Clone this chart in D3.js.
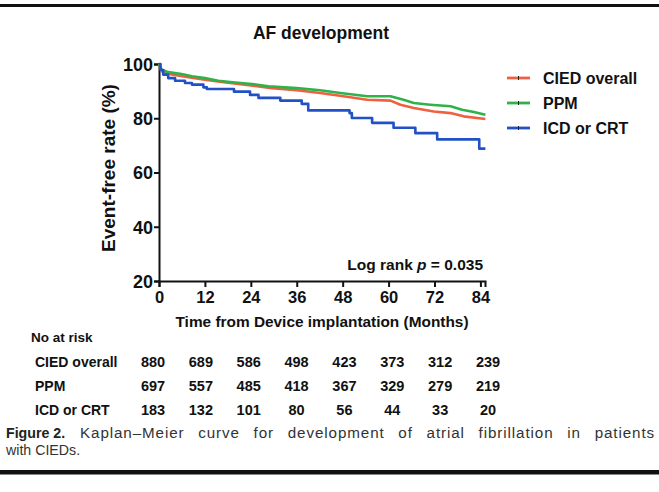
<!DOCTYPE html>
<html lang="en">
<head>
    <meta charset="UTF-8">
    <title>AF development</title>
    <script src="https://d3js.org/d3.v7.min.js"></script>
    <style>
        body {
            margin: 0;
            padding: 0;
            background: #fff;
        }
        svg {
            display: block;
            font-family: "Liberation Sans", Arial, sans-serif;
        }
        .bold {
            font-weight: bold;
            fill: #111;
        }
    </style>
</head>
<body>
    <svg width="659" height="492"></svg>

    <script>
        // Kaplan-Meier estimates (month, event-free %)
        const overallMonths = [0, 0.7, 3.3, 7.7, 12.0, 16.4, 20.8, 25.1, 29.5, 36.0, 42.1, 48.2, 54.4, 60.5, 63.1, 66.6, 71.8, 76.2, 79.6, 85.3];
        const overallRate   = [100, 97.3, 96.1, 95.1, 94.2, 93.4, 92.6, 91.9, 91.1, 90.3, 89.3, 88.1, 86.8, 86.5, 85.0, 83.8, 82.5, 81.9, 80.7, 79.7];

        const ppmMonths = [0, 0.7, 2.4, 5.9, 8.6, 12.0, 15.5, 19.9, 24.3, 28.6, 36.0, 42.1, 47.4, 54.4, 60.5, 63.9, 66.6, 70.9, 76.2, 79.2, 82.3, 85.3];
        const ppmRate   = [100, 97.9, 97.0, 96.3, 95.5, 94.8, 93.8, 93.2, 92.6, 91.8, 91.1, 90.3, 89.3, 88.1, 88.1, 86.8, 85.6, 85.0, 84.4, 83.1, 82.3, 81.3];

        const icdMonths = [0, 0.4, 1.1, 2.4, 4.2, 6.8, 8.6, 11.6, 12.5, 19.6, 23.8, 26.0, 31.7, 37.3, 39.0, 49.8, 50.4, 55.7, 61.3, 67.0, 72.7, 83.7, 85.3];
        const icdRate   = [100, 97.8, 96.1, 94.8, 93.8, 93.0, 92.4, 91.4, 90.8, 89.8, 88.6, 87.5, 86.5, 85.3, 82.9, 81.9, 80.1, 78.3, 76.5, 74.5, 72.2, 68.8, 68.8];

        const seriesNames  = ["CIED overall", "PPM", "ICD or CRT"];
        const seriesColors = ["#f0603f", "#2fb24a", "#2250c6"];

        const xTicks = [0, 12, 24, 36, 48, 60, 72, 84];
        const yTicks = [20, 40, 60, 80, 100];

        // numbers at risk, per column of xTicks
        const riskOverall = [880, 689, 586, 498, 423, 373, 312, 239];
        const riskPPM     = [697, 557, 485, 418, 367, 329, 279, 219];
        const riskICD     = [183, 132, 101, 80, 56, 44, 33, 20];

        const svg = d3.select("svg");

        const x = d3.scaleLinear().domain([0, 85.2]).range([159, 485]);
        const y = d3.scaleLinear().domain([20, 100]).range([281, 64]);

        // top rule
        svg.append("rect").attr("x", 0).attr("y", 4).attr("width", 659).attr("height", 3).attr("fill", "#111");

        // title
        svg.append("text").attr("class", "bold")
            .attr("x", 321).attr("y", 39)
            .attr("text-anchor", "middle")
            .style("font-size", "17.5px")
            .text("AF development");

        // axes
        const xAxis = svg.append("g")
            .attr("transform", "translate(0,281)")
            .call(d3.axisBottom(x).tickValues(xTicks).tickSize(6).tickPadding(4));
        const yAxis = svg.append("g")
            .attr("transform", "translate(159,0)")
            .call(d3.axisLeft(y).tickValues(yTicks).tickSize(5).tickPadding(1));

        [xAxis, yAxis].forEach(g => {
            g.select(".domain").attr("stroke", "#111").attr("stroke-width", 2);
            g.selectAll(".tick line").attr("stroke", "#111").attr("stroke-width", 2);
            g.selectAll(".tick text")
                .attr("fill", "#111")
                .style("font-family", "'Liberation Sans', Arial, sans-serif")
                .style("font-weight", "bold");
        });
        xAxis.selectAll(".tick text").style("font-size", "16.5px");
        yAxis.selectAll(".tick text").style("font-size", "18px").attr("dy", "0.36em");

        // axis titles
        svg.append("text").attr("class", "bold")
            .attr("x", 322).attr("y", 327)
            .attr("text-anchor", "middle")
            .style("font-size", "15.4px")
            .text("Time from Device implantation (Months)");

        svg.append("text").attr("class", "bold")
            .attr("transform", "translate(115,168) rotate(-90)")
            .attr("text-anchor", "middle")
            .style("font-size", "19px")
            .text("Event-free rate (%)");

        // survival curves
        const series = [
            { months: overallMonths, rate: overallRate, curve: d3.curveLinear },
            { months: ppmMonths, rate: ppmRate, curve: d3.curveLinear },
            { months: icdMonths, rate: icdRate, curve: d3.curveStepAfter }
        ];

        series.forEach((s, i) => {
            const pts = s.months.map((m, j) => [m, s.rate[j]]);
            const line = d3.line()
                .x(d => x(d[0]))
                .y(d => y(d[1]))
                .curve(s.curve);
            svg.append("path")
                .datum(pts)
                .attr("fill", "none")
                .attr("stroke", seriesColors[i])
                .attr("stroke-width", 2.6)
                .attr("stroke-linejoin", "round")
                .attr("d", line);
        });

        // legend
        const legend = svg.append("g").attr("transform", "translate(507,78)");
        seriesNames.forEach((name, i) => {
            const row = legend.append("g").attr("transform", `translate(0,${i * 25})`);
            row.append("line")
                .attr("x1", 0).attr("x2", 23)
                .attr("stroke", seriesColors[i]).attr("stroke-width", 2.8);
            row.append("line")
                .attr("x1", 11.5).attr("x2", 11.5).attr("y1", -2).attr("y2", 2)
                .attr("stroke", "#222").attr("stroke-width", 1);
            row.append("text").attr("class", "bold")
                .attr("x", 36).attr("dy", "0.36em")
                .style("font-size", "16px")
                .text(name);
        });

        // log rank annotation
        const lr = svg.append("text").attr("class", "bold")
            .attr("x", 483).attr("y", 270)
            .attr("text-anchor", "end")
            .style("font-size", "15.5px");
        lr.append("tspan").text("Log rank ");
        lr.append("tspan").style("font-style", "italic").text("p");
        lr.append("tspan").text(" = 0.035");

        // numbers at risk table
        const col = d3.scaleLinear().domain([0, 84]).range([153, 488]);

        svg.append("text").attr("class", "bold")
            .attr("x", 31).attr("y", 341.5)
            .style("font-size", "13.5px")
            .text("No at risk");

        const riskRows = [riskOverall, riskPPM, riskICD];
        riskRows.forEach((vals, i) => {
            const yy = 366.5 + i * 24.3;
            svg.append("text").attr("class", "bold")
                .attr("x", 35).attr("y", yy)
                .style("font-size", "14px")
                .text(seriesNames[i]);
            svg.selectAll(null)
                .data(vals)
                .enter().append("text")
                .attr("class", "bold")
                .attr("x", (d, j) => col(xTicks[j]))
                .attr("y", yy)
                .attr("text-anchor", "middle")
                .style("font-size", "14.5px")
                .text(d => d);
        });

        // caption; the first line is justified in the journal layout
        svg.append("text")
            .attr("x", 6).attr("y", 438)
            .attr("fill", "#222")
            .style("font-size", "14.2px")
            .style("font-weight", "bold")
            .text("Figure 2.");

        const capText = "Kaplan\u2013Meier curve for development of atrial fibrillation in patients";
        const cap1 = svg.append("text")
            .attr("x", 80).attr("y", 438)
            .attr("fill", "#333")
            .style("font-size", "15.2px")
            .style("letter-spacing", "0.9px")
            .text(capText);
        const natural = cap1.node().getComputedTextLength();
        const gaps = capText.split(" ").length - 1;
        const wordGap = Math.max(0, (575 - natural) / gaps);
        cap1.style("word-spacing", wordGap.toFixed(2) + "px");

        svg.append("text")
            .attr("x", 6).attr("y", 455)
            .attr("fill", "#333")
            .style("font-size", "14.2px")
            .text("with CIEDs.");

        // bottom rule
        svg.append("rect").attr("x", 0).attr("y", 470).attr("width", 659).attr("height", 4.5).attr("fill", "#111");
    </script>
</body>
</html>
